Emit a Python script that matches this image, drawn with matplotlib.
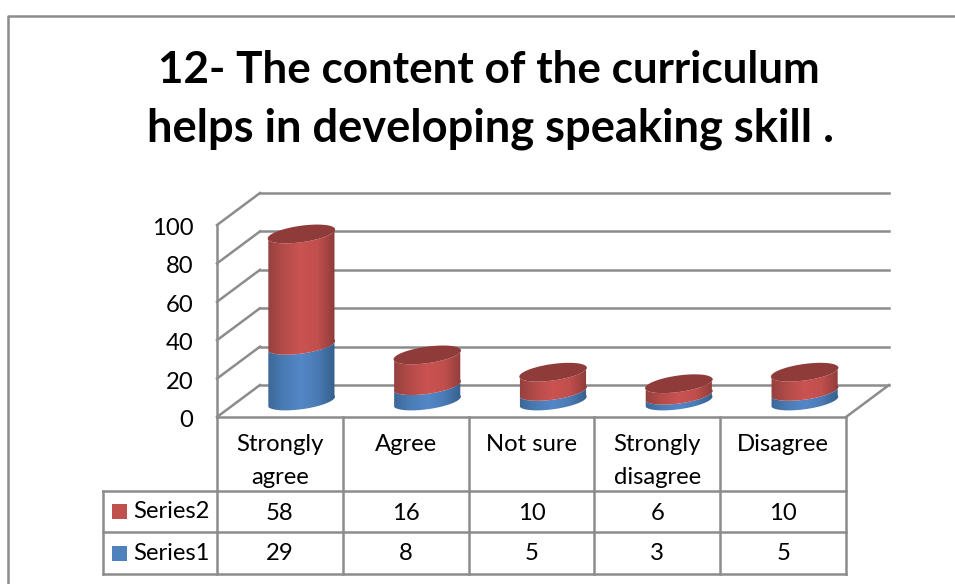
# -*- coding: utf-8 -*-
"""3D-look stacked cylinder chart with a data table underneath."""
import numpy as np
import matplotlib
matplotlib.use("Agg")
import matplotlib.pyplot as plt
from matplotlib.colors import LinearSegmentedColormap
from matplotlib.patches import PathPatch, Rectangle
from matplotlib.path import Path

plt.rcParams["font.family"] = ["Lato", "DejaVu Sans"]

title_lines = ["12- The content of the curriculum", "helps in developing speaking skill ."]
categories = ["Strongly\nagree", "Agree", "Not sure", "Strongly\ndisagree", "Disagree"]
series1 = [29, 8, 5, 3, 5]
series2 = [58, 16, 10, 6, 10]
yticks = [0, 20, 40, 60, 80, 100]

W, H = 955, 584
GRID = "#8c8c8c"
LEFT, RIGHT, ZERO, HUNDRED = 217, 846, 417, 225
X_UNIT = (RIGHT - LEFT) / len(categories)
Y_UNIT = (ZERO - HUNDRED) / 100
DEPTH_X, DEPTH_Y = 43 / X_UNIT, 32 / Y_UNIT
FS = 17.2

fig = plt.figure(figsize=(W / 100, H / 100), dpi=100, facecolor="white")
ax = fig.add_axes([LEFT / W, 1 - ZERO / H, (RIGHT - LEFT) / W, (ZERO - HUNDRED) / H])
ax.axis("off")


def row_y(py):
    # picture row -> value axis, for things below the floor
    return (ZERO - py) / Y_UNIT


def line(xs, ys, lw=1.8, color=GRID, z=1):
    ax.plot(xs, ys, color=color, lw=lw, clip_on=False, zorder=z, solid_capstyle="projecting")


def half_ellipse(cx, value, a=34, b=8.2, tilt=8):
    # lower half of the tilted ellipse, right to left, in data units
    t = np.radians(tilt)
    u = np.linspace(-0.05 * np.pi, 0.95 * np.pi, 40)
    dx = a * np.cos(u) * np.cos(t) + b * np.sin(u) * np.sin(t)
    dy = a * np.cos(u) * np.sin(t) - b * np.sin(u) * np.cos(t)
    return cx + dx / X_UNIT, value + dy / Y_UNIT


def cap(cx, value, color):
    t = np.radians(8)
    u = np.linspace(0, 2 * np.pi, 80)
    dx = 34 * np.cos(u) * np.cos(t) + 8.2 * np.sin(u) * np.sin(t)
    dy = 34 * np.cos(u) * np.sin(t) - 8.2 * np.sin(u) * np.cos(t)
    ax.fill(cx + dx / X_UNIT, value + dy / Y_UNIT, color=color, lw=0, zorder=5, clip_on=False)


def segment(cx, low, high, cmap, z):
    xb, yb = half_ellipse(cx, low)
    xt, yt = half_ellipse(cx, high)
    verts = np.vstack([np.c_[xb, yb], np.c_[xt[::-1], yt[::-1]], [[xb[0], yb[0]]]])
    path = Path(verts, closed=True)
    grad = np.linspace(0, 1, 128)[None, :]
    hw = 34 / X_UNIT
    im = ax.imshow(grad, extent=[cx - hw, cx + hw, low - 20, high + 20], cmap=cmap,
                   aspect="auto", zorder=z)
    im.set_clip_path(PathPatch(path, transform=ax.transData))


red_map = LinearSegmentedColormap.from_list("r", ["#94403e", "#b54c4a", "#cb5351", "#c04f4d", "#8e3c3a"])
blue_map = LinearSegmentedColormap.from_list("b", ["#3b6797", "#4a7cb5", "#5487c6", "#4a7bb4", "#355f8d"])

# floor, walls and grid
for v in yticks:
    line([0, DEPTH_X], [v, v + DEPTH_Y])
    line([DEPTH_X, len(categories) + DEPTH_X], [v + DEPTH_Y, v + DEPTH_Y])
    ax.text(-23.5 / X_UNIT, v - 3.5 / Y_UNIT, str(v), ha="right", va="center", fontsize=FS, clip_on=False)
line([0, 0], [0, 100])
line([len(categories), len(categories) + DEPTH_X], [0, DEPTH_Y])
line([0, len(categories)], [0, 0])

# cylinders sit half way back on the floor
for i in range(len(categories)):
    cx = i + 0.5 + DEPTH_X / 2
    base = DEPTH_Y / 2
    segment(cx, base, base + series1[i], blue_map, 3)
    segment(cx, base + series1[i], base + series1[i] + series2[i], red_map, 4)
    cap(cx, base + series1[i] + series2[i], "#8f3b3a")

# imshow moves the limits, so set them after the cylinders
ax.set_xlim(0, len(categories))
ax.set_ylim(0, 100)

# data table
top, mid, low, bot = row_y(417), row_y(491), row_y(532), row_y(574)
key_left = (103 - LEFT) / X_UNIT
for i in range(len(categories) + 1):
    line([i, i], [top, bot])
line([key_left, len(categories)], [mid, mid])
line([key_left, len(categories)], [low, low])
line([key_left, len(categories)], [bot, bot])
line([key_left, key_left], [mid, bot])

for i, cat in enumerate(categories):
    for j, part in enumerate(cat.split("\n")):
        ax.text(i + 0.5, row_y(444.5 + 33 * j), part, ha="center", va="center", fontsize=FS, clip_on=False)
    ax.text(i + 0.5, row_y(513), str(series2[i]), ha="center", va="center", fontsize=FS, clip_on=False)
    ax.text(i + 0.5, row_y(554), str(series1[i]), ha="center", va="center", fontsize=FS, clip_on=False)

for name, color, py, ty in [("Series2", "#c0504d", 511, 512), ("Series1", "#4f81bd", 553.5, 554)]:
    ax.add_patch(Rectangle(((112 - LEFT) / X_UNIT, row_y(py + 7.5)), 15 / X_UNIT, 15 / Y_UNIT,
                           facecolor=color, edgecolor="none", clip_on=False))
    ax.text((133 - LEFT) / X_UNIT, row_y(ty), name, ha="left", va="center", fontsize=FS, clip_on=False)

# outer frame and title
fig.add_artist(plt.Line2D([8 / W, 8 / W, 1], [0, 1 - 16 / H, 1 - 16 / H], color=GRID, lw=1.8))
fig.text(489 / W, 1 - 70 / H, title_lines[0], ha="center", va="center", fontsize=31.7,
         fontweight="bold", color="black")
fig.text(490.5 / W, 1 - 129 / H, title_lines[1], ha="center", va="center", fontsize=32.6,
         fontweight="bold", color="black")

fig.savefig("out.png", dpi=100, facecolor="white")
